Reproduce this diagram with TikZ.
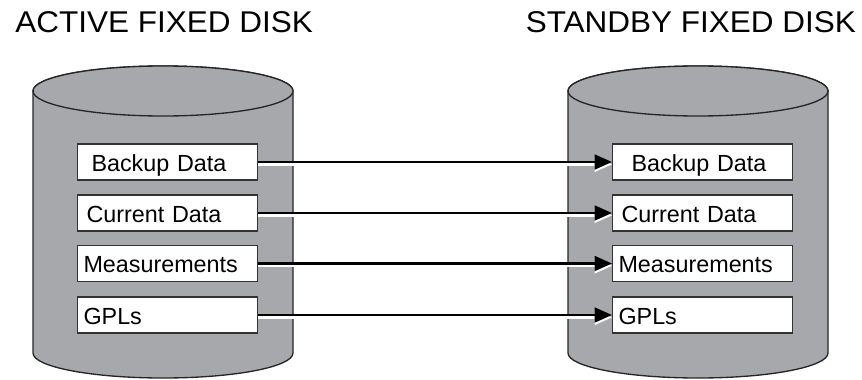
\documentclass[tikz,border=0pt]{standalone}
\usepackage{fontspec}
\setmainfont{Liberation Sans}
\newfontfamily\headfont[FakeStretch=1.05]{Liberation Sans}
\usetikzlibrary{arrows.meta}
\definecolor{diskgray}{RGB}{166,168,171}
\tikzset{
  disk/.style={fill=diskgray, draw=black!85, line width=1pt},
  box/.style={draw=black!80, fill=white, line width=0.8pt, anchor=west,
    minimum height=27pt, inner ysep=0pt, inner xsep=#1*0.75pt,
    text width=135pt-1.5pt*#1, align=left, text height=14pt, text depth=0pt,
    font=\fontsize{17.5}{20}\selectfont},
  syncline/.style={line width=2pt, -{Triangle[length=13pt,width=11pt]},
    preaction={draw=white, line width=1.8pt, transform canvas={yshift=-1.8pt}}},
  heading/.style={anchor=base west, inner sep=0pt,
    font=\headfont\fontsize{22.5}{27}\selectfont}
}
\begin{document}
\begin{tikzpicture}[x=0.75pt, y=0.75pt]
\useasboundingbox (0,0) rectangle (862,379);

\node[heading] (acthead) at (15,346) {ACTIVE FIXED DISK};
\node[heading] (stbhead) at (525.5,346) {STANDBY FIXED DISK};

% the two disks
\filldraw[disk] (33,288) -- (33,26) arc[start angle=180, end angle=360, x radius=130, y radius=25]
  -- (293,288) arc[start angle=0, end angle=180, x radius=130, y radius=25] -- cycle;
\draw[disk] (163,288) ellipse [x radius=130, y radius=25];

\filldraw[disk] (568,288) -- (568,26) arc[start angle=180, end angle=360, x radius=130, y radius=25]
  -- (828,288) arc[start angle=0, end angle=180, x radius=130, y radius=25] -- cycle;
\draw[disk] (698,288) ellipse [x radius=130, y radius=25];

% active side
\node[box=14] (actbackup) at (77,217) {Backup Data};
\node[box=9] (actcurrent) at (77,166) {Current Data};
\node[box=6] (actmeas) at (77,115.5) {Measurements};
\node[box=6] (actgpl) at (77,64) {GPLs};

% standby side
\node[box=19] (stbbackup) at (612,217) {Backup Data};
\node[box=9] (stbcurrent) at (612,166) {Current Data};
\node[box=6] (stbmeas) at (612,115.5) {Measurements};
\node[box=6] (stbgpl) at (612,64) {GPLs};

\draw[syncline] (actbackup) -- (stbbackup);
\draw[syncline] (actcurrent) -- (stbcurrent);
\draw[syncline] (actmeas) -- (stbmeas);
\draw[syncline] (actgpl) -- (stbgpl);
\end{tikzpicture}
\end{document}
